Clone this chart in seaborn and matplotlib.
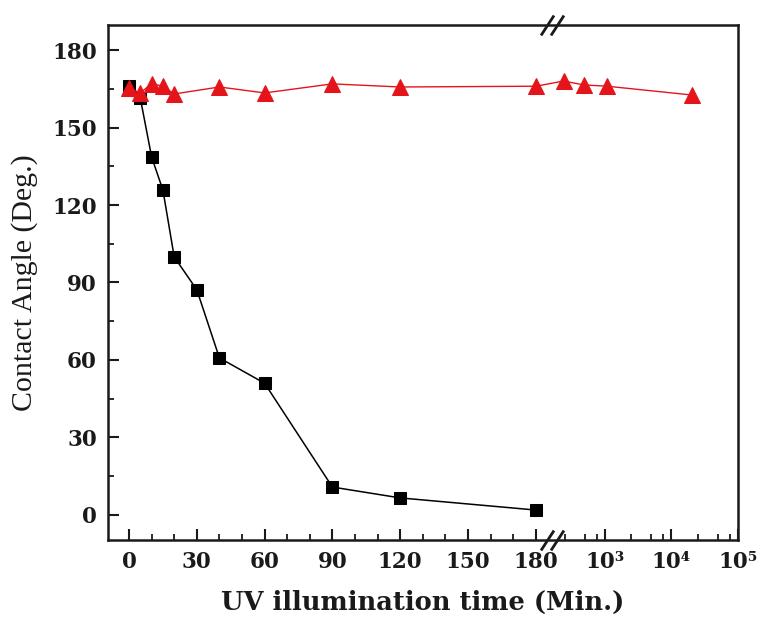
import numpy as np
import pandas as pd
import matplotlib
matplotlib.use("Agg")
import matplotlib.pyplot as plt
import matplotlib.transforms as mtransforms
from matplotlib.path import Path
import seaborn as sns

# ---- data ----
time_black = [0, 5, 10, 15, 20, 30, 40, 60, 90, 120, 180]
angle_black = [166, 161.4, 138.6, 125.8, 99.9, 87.2, 60.8, 51.0, 10.8, 6.6, 1.9]
time_red = [0, 5, 10, 15, 20, 40, 60, 90, 120, 180, 240, 480, 1080, 20160]
angle_red = [165.3, 163.4, 167.0, 166.0, 163.0, 165.7, 163.4, 166.9, 165.7, 166.0, 168.0, 166.5, 166.0, 162.6]
lin_ticks = [0, 30, 60, 90, 120, 150, 180]
log_ticks = [1e3, 1e4, 1e5]
log_labels = ["10³", "10⁴", "10⁵"]

# ---- broken scale: linear up to XB, then log ----
XB = 187.0
U3 = 210.6      # scaled position of 10^3
K = 29.45       # scaled units per decade
UB = U3 + (np.log10(XB) - 3) * K

def forward(x):
    x = np.asarray(x, dtype=float)
    with np.errstate(divide="ignore", invalid="ignore"):
        logpart = U3 + (np.log10(np.maximum(x, XB)) - 3) * K
    return np.where(x <= XB, x, logpart)

def inverse(u):
    u = np.asarray(u, dtype=float)
    with np.errstate(over="ignore"):
        logpart = 10 ** ((np.maximum(u, UB) - U3) / K + 3)
    return np.where(u <= XB, u, np.where(u < UB, XB, logpart))

sns.set_style("ticks")
plt.rcParams["font.family"] = ["DejaVu Serif"]

fig = plt.figure(figsize=(7.59, 6.19), dpi=100)
ax = fig.add_axes([108 / 759, 1 - 540 / 619, (738 - 108) / 759, (540 - 25) / 619])
ax.set_xscale("function", functions=(forward, inverse))
ax.set_xlim(-9.3, 1e5)
ax.set_ylim(-9.7, 189.7)

df_b = pd.DataFrame({"t": time_black, "a": angle_black})
df_r = pd.DataFrame({"t": time_red, "a": angle_red})
sns.lineplot(data=df_b, x="t", y="a", ax=ax, color="black", lw=1.1,
             marker="s", markersize=8.5, markeredgecolor="black", sort=False, zorder=3)
sns.lineplot(data=df_r, x="t", y="a", ax=ax, color="#e5141b", lw=1.0,
             marker="^", markersize=11.5, markeredgecolor="#e5141b", sort=False, zorder=4)

# ticks
ax.set_xticks(lin_ticks + log_ticks)
ax.set_xticklabels([str(t) for t in lin_ticks] + log_labels)
minor_lin = [m for m in range(10, 181, 10) if m % 30 != 0]
minor_log = [m * 10 ** d for d in (2, 3, 4) for m in (2.5, 5, 7.5) if m * 10 ** d > 200]
ax.set_xticks(minor_lin + minor_log, minor=True)
ax.set_yticks([0, 30, 60, 90, 120, 150, 180])
ax.set_yticks([15, 45, 75, 105, 135, 165], minor=True)

ax.tick_params(axis="both", which="major", direction="in", length=8, width=1.5,
               labelsize=15.5, pad=8, top=False, right=False, colors="#1a1a1a")
ax.tick_params(axis="both", which="minor", direction="in", length=4.5, width=1.3,
               top=False, right=False, colors="#1a1a1a")
for lab in ax.get_xticklabels() + ax.get_yticklabels():
    lab.set_fontweight("bold")

for sp in ax.spines.values():
    sp.set_linewidth(1.8)
    sp.set_color("#1a1a1a")
    sp.set_visible(True)

ax.set_xlabel("UV illumination time (Min.)", fontsize=18.5, fontweight="bold",
              color="#1a1a1a", labelpad=12)
ax.set_ylabel("Contact Angle (Deg.)", fontsize=21.5, family=["Liberation Serif"],
              color="#1a1a1a", labelpad=10)

# break marks "//" on top and bottom spines
slash = Path([(-11.5, -10), (1.5, 10), (-1.5, -10), (11.5, 10)],
             [Path.MOVETO, Path.LINETO, Path.MOVETO, Path.LINETO])
trans = mtransforms.blended_transform_factory(ax.transData, ax.transAxes)
xbreak = 187.0
for yb in (0.0, 1.0):
    ax.plot([xbreak], [yb], transform=trans, marker=slash, markersize=16.5,
            markeredgewidth=2.0, markeredgecolor="#1a1a1a", markerfacecolor="none",
            linestyle="none", clip_on=False, zorder=6)

fig.savefig("out.png", dpi=100)
